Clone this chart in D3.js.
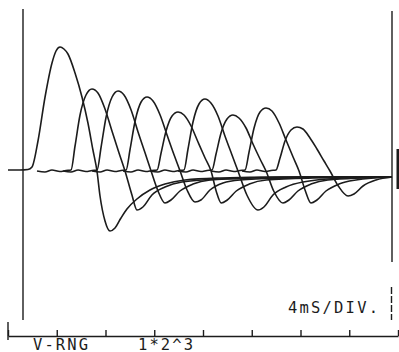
<!DOCTYPE html>
<html>
<head>
<meta charset="utf-8">
<script src="https://cdn.jsdelivr.net/npm/d3@7/dist/d3.min.js"></script>
<style>
  html, body { margin: 0; padding: 0; background: #fff; }
  svg { display: block; }
  .trace { fill: none; stroke: #1c1c1c; stroke-width: 1.6; stroke-linejoin: round; }
  .frame { stroke: #1c1c1c; stroke-width: 1.4; }
  .lbl { font-family: "DejaVu Sans Mono", monospace; font-size: 15.5px; fill: #1c1c1c; }
</style>
</head>
<body>
<div id="chart"></div>
<script>
// time in ms, amplitude in counts (0 = baseline)
const trace1 = [[0,1],[0.98,1],[1.64,1.5],[1.97,4],[2.46,30],[3.04,74],[3.61,108],[3.94,120],[4.27,124],[4.59,122],[4.92,117],[5.50,98],[6.07,74],[6.56,48],[6.97,21],[7.30,0],[7.55,-25],[7.96,-50],[8.37,-60],[8.78,-57],[9.27,-47],[9.76,-38],[10.58,-28],[11.65,-19],[12.88,-13],[14.52,-9],[17.39,-7],[22.32,-6],[31.51,-6]];
const trace2 = [[2.38,0],[3.03,-1],[3.61,1],[4.26,-0.5],[4.76,0.5],[5.17,1],[5.50,25],[5.91,56],[6.40,76],[6.89,82],[7.38,78],[7.96,62],[8.53,40],[9.11,18],[9.60,0],[10.17,-24],[10.58,-39],[11.07,-36],[11.81,-24],[12.88,-16],[14.27,-11],[17.5,-8],[24,-6],[31.51,-6]];
const trace3 = [[4.52,0],[5.17,-1],[5.75,1],[6.40,-0.5],[6.90,0.5],[7.31,1],[7.64,24],[8.05,54],[8.54,74],[9.03,80],[9.52,76],[10.10,61],[10.67,39],[11.25,18],[11.74,0],[12.31,-20],[12.88,-32],[13.37,-29],[14.11,-20],[15.18,-13],[16.57,-9],[20,-7],[26,-6],[31.51,-6]];
const trace4 = [[6.90,0],[7.55,-1],[8.13,1],[8.78,-0.5],[9.28,0.5],[9.69,1],[10.02,22],[10.43,50],[10.92,69],[11.41,74],[11.90,70],[12.48,56],[13.05,36],[13.63,16],[14.12,0],[14.69,-19],[15.34,-31],[15.83,-29],[16.57,-19],[17.64,-12],[19.03,-9],[23,-7],[28,-6],[31.51,-6]];
const trace5 = [[9.44,0],[10.09,-1],[10.67,1],[11.32,-0.5],[11.82,0.5],[12.23,1],[12.56,18],[12.97,40],[13.46,55],[13.95,59],[14.44,56],[15.02,45],[15.59,29],[16.17,13],[16.66,0],[17.08,-20],[17.5,-32],[17.99,-29],[18.73,-20],[19.80,-13],[21.19,-9],[25,-7],[31.51,-6]];
const trace6 = [[11.65,0],[12.30,-1],[12.88,1],[13.53,-0.5],[14.03,0.5],[14.44,1],[14.77,22],[15.18,49],[15.67,67],[16.16,72],[16.65,68],[17.23,55],[17.80,35],[18.38,16],[18.87,0],[19.6,-24],[20.51,-39],[21.00,-36],[21.74,-24],[22.81,-16],[24.20,-11],[27.5,-7],[31.51,-6]];
const trace7 = [[13.95,0],[14.60,-1],[15.18,1],[15.83,-0.5],[16.33,0.5],[16.74,1],[17.07,17],[17.48,38],[17.97,52],[18.46,56],[18.95,53],[19.53,43],[20.10,27],[20.68,12],[21.17,0],[21.8,-20],[22.56,-32],[23.05,-29],[23.79,-20],[24.86,-13],[26.25,-9],[31.51,-6]];
const trace8 = [[16.66,0],[17.31,-1],[17.89,1],[18.54,-0.5],[19.04,0.5],[19.45,1],[19.78,19],[20.19,43],[20.68,59],[21.17,63],[21.66,60],[22.24,48],[22.81,31],[23.39,14],[23.88,0],[24.4,-20],[24.86,-32],[25.35,-29],[26.09,-20],[27.16,-13],[28.55,-9],[31.51,-6]];
const trace9 = [[19.20,0],[19.85,-1],[20.43,1],[21.08,-0.5],[21.58,0.5],[21.99,1],[22.32,13],[22.73,30],[23.22,41],[23.71,44],[24.20,42],[24.78,33],[25.35,22],[25.93,10],[26.42,0],[27.1,-15],[27.90,-25],[28.39,-23],[29.13,-15],[30.20,-9],[31.51,-6]];

const traces = [trace1, trace2, trace3, trace4, trace5, trace6, trace7, trace8, trace9];
const divTicks = [0, 4, 8, 12, 16, 20, 24, 28, 32];
const rangeLabel = "V-RNG";
const gainLabel = "1*2^3";
const sweepLabel = "4mS/DIV.";

const width = 399, height = 352;

const svg = d3.select('#chart')
    .append('svg')
    .attr('width', width)
    .attr('height', height);

const x = d3.scaleLinear().domain([0, 32]).range([8, 398]);
const y = d3.scaleLinear().domain([-160, 160]).range([331, 11]);

// frame lines of the plotter sheet
svg.append('line').attr('class', 'frame')
    .attr('x1', 23).attr('x2', 23).attr('y1', 9).attr('y2', 320);
svg.append('line').attr('class', 'frame')
    .attr('x1', 392).attr('x2', 392).attr('y1', 11).attr('y2', 262);
svg.append('line').attr('class', 'frame')
    .attr('x1', 391.5).attr('x2', 391.5).attr('y1', 287).attr('y2', 320)
    .attr('stroke-dasharray', '7,2');
svg.append('rect')
    .attr('x', 396.5).attr('y', 149).attr('width', 2.5).attr('height', 40)
    .attr('fill', '#1c1c1c');

// time axis
const axis = svg.append('g')
    .attr('transform', 'translate(0,336)')
    .call(d3.axisTop(x).tickValues(divTicks).tickSize(6).tickSizeOuter(0).tickFormat(''));
axis.select('.domain').attr('stroke', '#1c1c1c').attr('stroke-width', 1.4);
axis.selectAll('.tick line').attr('stroke', '#1c1c1c').attr('stroke-width', 1.4);
svg.append('line').attr('class', 'frame')
    .attr('x1', x(0)).attr('x2', x(0)).attr('y1', 322).attr('y2', 340);

// traces
const line = d3.line()
    .x(d => x(d[0]))
    .y(d => y(d[1]))
    .curve(d3.curveMonotoneX);

svg.selectAll('.trace')
    .data(traces).enter().append('path')
    .attr('class', 'trace')
    .attr('d', line);

// labels
svg.append('text').attr('class', 'lbl')
    .attr('x', 33).attr('y', 349.5)
    .attr('textLength', 55).attr('lengthAdjust', 'spacing')
    .text(rangeLabel);
svg.append('text').attr('class', 'lbl')
    .attr('x', 138).attr('y', 349.5)
    .attr('textLength', 55).attr('lengthAdjust', 'spacing')
    .text(gainLabel);
svg.append('text').attr('class', 'lbl')
    .attr('x', 288).attr('y', 313)
    .attr('textLength', 90).attr('lengthAdjust', 'spacing')
    .text(sweepLabel);
</script>
</body>
</html>
